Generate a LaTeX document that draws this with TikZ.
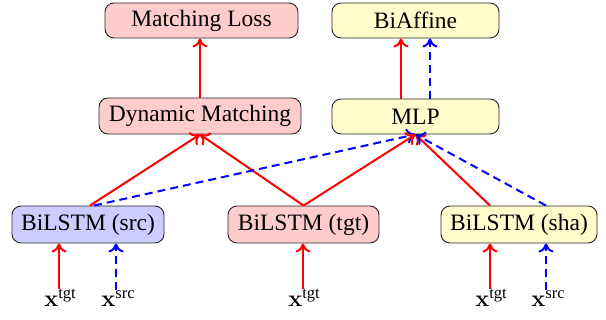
\documentclass[tikz,border=0pt]{standalone}
\usepackage{fontspec}
\setmainfont{Liberation Serif}
\newfontfamily\lmfont{Latin Modern Roman}
\usetikzlibrary{arrows.meta}
\tikzset{
  box/.style={draw=black!85, line width=0.9pt, rounded corners=9pt, inner sep=0pt,
    font=\fontsize{23.5}{28}\selectfont},
  pinkbox/.style={box, fill=red!20},
  bluebox/.style={box, fill=blue!20},
  yelbox/.style={box, fill=yellow!20},
  lab/.style={inner sep=1pt, anchor=base, font=\fontsize{23.5}{28}\selectfont},
  redarr/.style={draw=red, line width=2pt, -{To[length=9pt,width=15pt]}},
  bluearr/.style={draw=blue, line width=2pt, dash pattern=on 8pt off 5pt, -{To[length=9pt,width=15pt]}},
}
\newcommand{\xlab}[1]{{\lmfont\bfseries x}\raisebox{8pt}{\fontsize{16.5}{18}\selectfont #1}}
\begin{document}
\begin{tikzpicture}[x=1pt,y=-1pt]
\useasboundingbox (0,0) rectangle (606,320);
\node[pinkbox, minimum width=193pt, minimum height=35pt] (ml) at (201.5,20.5) {Matching Loss};
\node[yelbox, minimum width=167pt, minimum height=35pt] (ba) at (415.5,20.5) {BiAffine};
\node[pinkbox, minimum width=202pt, minimum height=36pt] (dm) at (200,116) {Dynamic Matching};
\node[yelbox, minimum width=167pt, minimum height=35pt] (mlp) at (415.5,116.5) {MLP};
\node[bluebox, minimum width=152pt, minimum height=37pt] (src) at (88,224.5) {BiLSTM (src)};
\node[pinkbox, minimum width=151pt, minimum height=37pt] (tgt) at (303.5,224.5) {BiLSTM (tgt)};
\node[yelbox, minimum width=156pt, minimum height=37pt] (sha) at (519,224.5) {BiLSTM (sha)};

\node[lab] (x1) at (60,307) {\xlab{tgt}};
\node[lab] (x2) at (118,307) {\xlab{src}};
\node[lab] (x3) at (304,307) {\xlab{tgt}};
\node[lab] (x4) at (491,307) {\xlab{tgt}};
\node[lab] (x5) at (548,307) {\xlab{src}};

\draw[redarr] ([xshift=-1pt]x1.north) -- ([xshift=-1pt]x1.north |- src.south);
\draw[bluearr] ([xshift=-2pt]x2.north) -- ([xshift=-2pt]x2.north |- src.south);
\draw[redarr] ([xshift=-1pt]x3.north) -- ([xshift=-1pt]x3.north |- tgt.south);
\draw[redarr] ([xshift=-1pt]x4.north) -- ([xshift=-1pt]x4.north |- sha.south);
\draw[bluearr] ([xshift=-2pt]x5.north) -- ([xshift=-2pt]x5.north |- sha.south);

\draw[redarr] ([xshift=2pt]src.north) -- (dm.south);
\draw[redarr] (tgt.north) -- (dm.south);
\draw[bluearr] ([xshift=6pt]src.north) -- (mlp.south);
\draw[redarr] (tgt.north) -- (mlp.south);
\draw[redarr] ([xshift=-29pt]sha.north) -- (mlp.south);
\draw[bluearr] ([xshift=27pt]sha.north) -- (mlp.south);

\draw[redarr] (dm.north) -- (dm.north |- ml.south);
\draw[redarr] ([xshift=-14.5pt]mlp.north) -- ([xshift=-14.5pt]mlp.north |- ba.south);
\draw[bluearr] ([xshift=14.5pt]mlp.north) -- ([xshift=14.5pt]mlp.north |- ba.south);
\end{tikzpicture}
\end{document}
